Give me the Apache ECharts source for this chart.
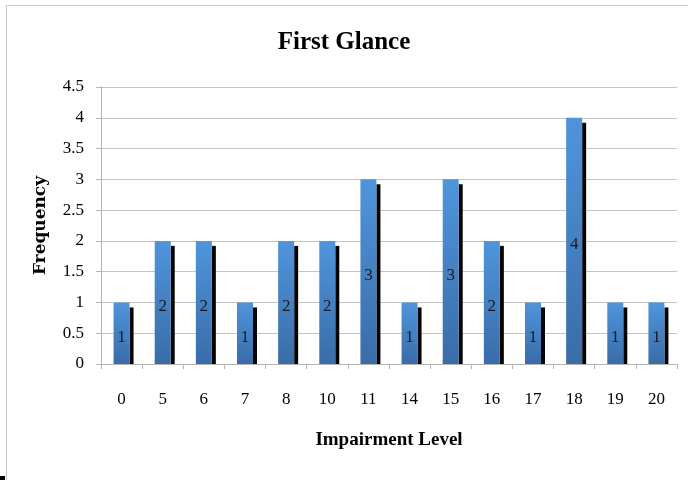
<!DOCTYPE html>
<html>
<head>
<meta charset="utf-8">
<style>
  html, body { margin: 0; padding: 0; background: #fff; }
  #chart { width: 688px; height: 480px; }
</style>
<script src="https://cdn.jsdelivr.net/npm/echarts@6/dist/echarts.min.js"></script>
</head>
<body>
<div id="chart"></div>
<script>
// Impairment levels and how often each was observed
const levels = ['0', '5', '6', '7', '8', '10', '11', '14', '15', '16', '17', '18', '19', '20'];
const frequency = [1, 2, 2, 1, 2, 2, 3, 1, 3, 2, 1, 4, 1, 1];
const yTicks = { min: 0, max: 4.5, interval: 0.5 };

const SERIF = '"Liberation Serif", "DejaVu Serif", serif';
const WIDE_SERIF = '"DejaVu Serif", "Liberation Serif", serif';
const BAR_W = 16;

const chart = echarts.init(document.getElementById('chart'), null, { renderer: 'canvas' });

chart.setOption({
  backgroundColor: '#ffffff',
  animation: false,
  title: {
    text: 'First Glance',
    left: 'center',
    top: 25,
    textStyle: { fontFamily: SERIF, fontWeight: 'bold', fontSize: 25, color: '#000' }
  },
  graphic: [
    {
      type: 'rect',
      shape: { x: 6.5, y: 5.5, width: 720, height: 520 },
      style: { fill: 'none', stroke: '#c8c8c8', lineWidth: 1 },
      silent: true, z: -10
    },
    {
      type: 'rect',
      shape: { x: 0, y: 476, width: 5, height: 4 },
      style: { fill: '#000' },
      silent: true
    }
  ],
  grid: { left: 101, right: 11, top: 87, bottom: 116 },
  xAxis: {
    type: 'category',
    data: levels,
    name: 'Impairment Level',
    nameLocation: 'middle',
    nameGap: 67,
    nameTextStyle: { fontFamily: SERIF, fontWeight: 'bold', fontSize: 19, color: '#000' },
    axisLine: { lineStyle: { color: '#b4b4b4', width: 1 } },
    axisTick: { show: true, alignWithLabel: false, length: 5, lineStyle: { color: '#b4b4b4' } },
    axisLabel: { fontFamily: SERIF, fontSize: 17, color: '#000', margin: 27 },
    splitLine: { show: false }
  },
  yAxis: {
    type: 'value',
    min: yTicks.min,
    max: yTicks.max,
    interval: yTicks.interval,
    name: 'Frequency',
    nameLocation: 'middle',
    nameGap: 52,
    nameRotate: 90,
    nameTextStyle: { fontFamily: WIDE_SERIF, fontWeight: 'bold', fontSize: 17, color: '#000' },
    axisLine: { show: true, lineStyle: { color: '#b4b4b4', width: 1 } },
    axisTick: { show: true, length: 5, lineStyle: { color: '#b4b4b4' } },
    axisLabel: { fontFamily: SERIF, fontSize: 17, color: '#000', margin: 17 },
    splitLine: { show: true, lineStyle: { color: '#c4c4c4', width: 1 } }
  },
  series: [
    {
      // dark drop shadow down the right side of each column
      type: 'custom',
      data: frequency.map((v, i) => [i, v]),
      z: 1,
      silent: true,
      renderItem: function (params, api) {
        const top = api.coord([api.value(0), api.value(1)]);
        const base = api.coord([api.value(0), 0]);
        return {
          type: 'rect',
          shape: { x: top[0] + BAR_W / 2, y: top[1] + 5, width: 4, height: base[1] - top[1] - 5 },
          style: { fill: '#050505' }
        };
      }
    },
    {
      type: 'bar',
      data: frequency,
      barWidth: BAR_W,
      z: 2,
      itemStyle: {
        color: new echarts.graphic.LinearGradient(0, 0, 0, 1, [
          { offset: 0, color: '#4f95dc' },
          { offset: 1, color: '#3a6ca8' }
        ])
      },
      label: {
        show: true,
        position: 'inside',
        offset: [0, 4],
        fontFamily: SERIF,
        fontSize: 17,
        color: '#1a1a1a'
      }
    }
  ]
});
</script>
</body>
</html>
